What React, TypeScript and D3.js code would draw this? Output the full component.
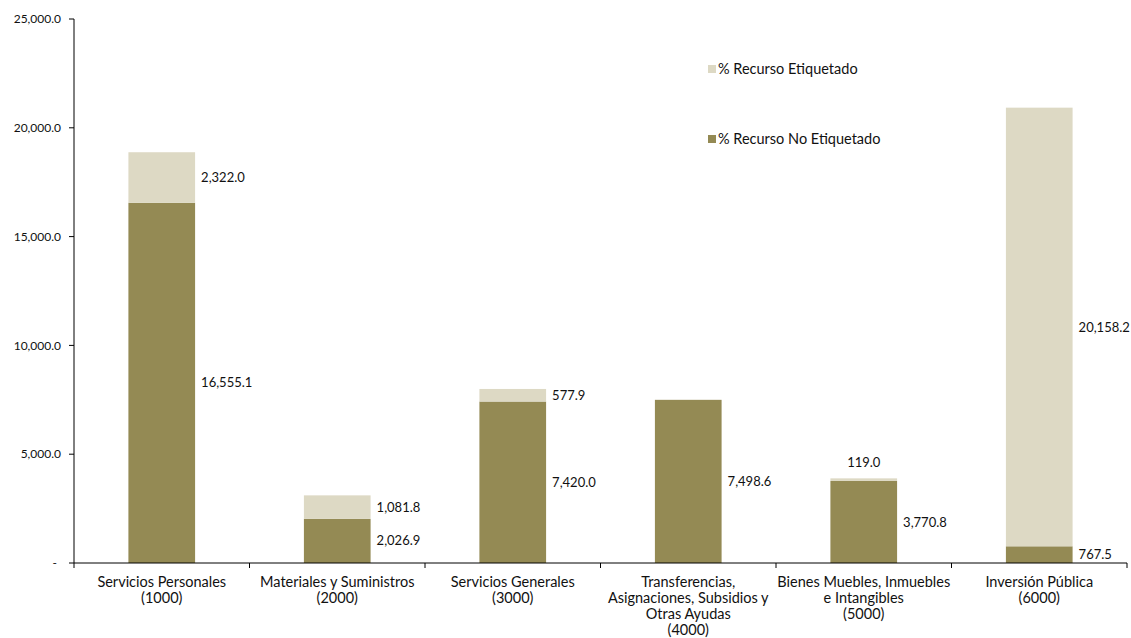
import React from "react";
import * as d3 from "d3";

const categories: string[][] = [
  ["Servicios Personales", "(1000)"],
  ["Materiales y Suministros", "(2000)"],
  ["Servicios Generales", "(3000)"],
  ["Transferencias,", "Asignaciones, Subsidios y", "Otras Ayudas", "(4000)"],
  ["Bienes Muebles, Inmuebles", "e Intangibles", "(5000)"],
  ["Inversión Pública", "(6000)"],
];
const noEtiquetado = [16555.1, 2026.9, 7420.0, 7498.6, 3770.8, 767.5];
const etiquetado = [2322.0, 1081.8, 577.9, 0, 119.0, 20158.2];
const yTicks = [0, 5000, 10000, 15000, 20000, 25000];
const seriesNames = ["% Recurso Etiquetado", "% Recurso No Etiquetado"];

const W = 1131, H = 638;
const margin = { left: 74, right: 4, top: 19, bottom: 75 };
const colDark = "#948A54";
const colLight = "#DDD9C4";
const font = "Lato, 'Open Sans', sans-serif";

export default function App() {
  const x = d3
    .scaleBand<number>()
    .domain(d3.range(categories.length))
    .range([margin.left, W - margin.right])
    .paddingInner(0)
    .paddingOuter(0);
  const y = d3.scaleLinear().domain([0, 25000]).range([H - margin.bottom, margin.top]);
  const bw = x.bandwidth() * 0.38;
  const fmt = d3.format(",.1f");
  const y0 = y(0);

  return (
    <svg width={W} height={H} style={{ position: "absolute", left: 0, top: 0 }} fontFamily={font}>
      <rect width={W} height={H} fill="#fff" />
      {categories.map((_, i) => {
        const cx = (x(i) as number) + x.bandwidth() / 2;
        const a = noEtiquetado[i];
        const b = etiquetado[i];
        const yA = y(a);
        const yB = y(a + b);
        const lx = cx + bw / 2 + 6;
        return (
          <g key={i}>
            <rect x={cx - bw / 2} y={yA} width={bw} height={y0 - yA} fill={colDark} />
            {b > 0 && <rect x={cx - bw / 2} y={yB} width={bw} height={yA - yB} fill={colLight} />}
            <text x={lx} y={(y0 + yA) / 2} dy="0.35em" fontSize={13} fill="#111">
              {fmt(a)}
            </text>
            {b > 0 &&
              (yA - yB < 10 ? (
                <text x={cx} y={yB - 11} textAnchor="middle" fontSize={13} fill="#111">
                  {fmt(b)}
                </text>
              ) : (
                <text x={lx} y={(yA + yB) / 2} dy="0.35em" fontSize={13} fill="#111">
                  {fmt(b)}
                </text>
              ))}
            {categories[i].map((line, j) => (
              <text key={j} x={cx} y={587 + j * 16} textAnchor="middle" fontSize={14.5} fill="#111">
                {line}
              </text>
            ))}
          </g>
        );
      })}
      {/* y axis */}
      <line x1={margin.left} x2={margin.left} y1={y(25000)} y2={y0} stroke="#000" />
      {yTicks.map((t) => (
        <g key={t}>
          <line x1={margin.left - 5} x2={margin.left} y1={y(t)} y2={y(t)} stroke="#000" />
          <text x={t === 0 ? 57 : 61} y={y(t)} dy="0.35em" textAnchor="end" fontSize={12} fill="#111">
            {t === 0 ? "-" : fmt(t)}
          </text>
        </g>
      ))}
      {/* x axis */}
      <line x1={margin.left} x2={W - margin.right} y1={y0} y2={y0} stroke="#000" />
      {d3.range(categories.length + 1).map((i) => {
        const xx = i < categories.length ? (x(i) as number) : W - margin.right;
        return <line key={i} x1={xx} x2={xx} y1={y0} y2={y0 + 5} stroke="#000" />;
      })}
      {/* legend */}
      {seriesNames.map((n, i) => (
        <g key={n} transform={`translate(708, ${69 + i * 70})`}>
          <rect x={0} y={-4} width={8} height={8} fill={i === 0 ? colLight : colDark} />
          <text x={10} y={0} dy="0.35em" fontSize={14.5} fill="#111">
            {n}
          </text>
        </g>
      ))}
    </svg>
  );
}
